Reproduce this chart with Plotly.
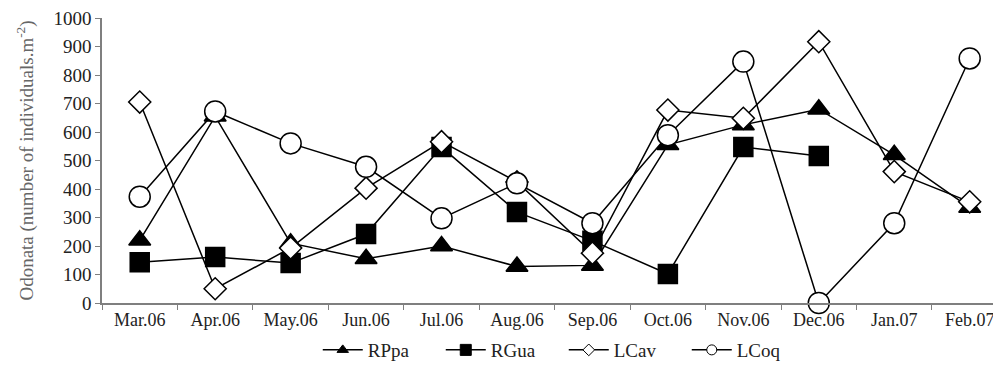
import plotly.graph_objects as go

months = ["Mar.06", "Apr.06", "May.06", "Jun.06", "Jul.06", "Aug.06",
          "Sep.06", "Oct.06", "Nov.06", "Dec.06", "Jan.07", "Feb.07"]
rppa = [220, 655, 210, 155, 200, 128, 132, 555, 625, 680, 520, 335]
rgua = [143, 161, 140, 242, 547, 319, 218, 102, 547, 516, None, None]
lcav = [705, 50, 193, 403, 566, 425, 175, 677, 648, 917, 461, 355]
lcoq = [373, 672, 560, 478, 297, 420, 280, 589, 847, 0, 280, 858]

series = [
    ("RPpa", rppa, "triangle-up", "black", 19, 10),
    ("RGua", rgua, "square", "black", 19, 11),
    ("LCav", lcav, "diamond", "white", 17, 9),
    ("LCoq", lcoq, "circle", "white", 21, 10),
]

fig = go.Figure()
for name, vals, sym, fill, size, lsize in series:
    fig.add_trace(go.Scatter(
        x=months, y=vals, mode="lines+markers", name=name, showlegend=False,
        line=dict(color="black", width=1.5), cliponaxis=False,
        marker=dict(symbol=sym, size=size, color=fill,
                    line=dict(color="black", width=1.5)),
    ))
for name, vals, sym, fill, size, lsize in series:
    fig.add_trace(go.Scatter(
        x=[None], y=[None], mode="lines+markers", name=name,
        line=dict(color="black", width=1.5),
        marker=dict(symbol=sym, size=lsize, color=fill,
                    line=dict(color="black", width=1)),
    ))

axis_font = dict(family="Liberation Serif", size=19, color="#222222")
xtick_font = dict(family="Liberation Serif", size=18, color="#222222")
fig.update_layout(
    width=1001, height=389,
    margin=dict(l=94, r=8, t=10, b=94, autoexpand=False),
    paper_bgcolor="white", plot_bgcolor="white",
    font=axis_font,
    showlegend=True,
    legend=dict(orientation="h", x=0.24, xanchor="left", y=-0.165, yanchor="middle",
                font=dict(family="Liberation Serif", size=19, color="#222222"),
                entrywidth=68, entrywidthmode="pixels",
                itemwidth=40, tracegroupgap=0),
)
fig.update_xaxes(
    type="category", range=[-0.5, 11.415], automargin=False,
    showline=True, linecolor="#7f7f7f", linewidth=1.5,
    ticks="outside", tickson="boundaries", ticklen=5, tickcolor="#7f7f7f",
    showgrid=False, zeroline=False, tickfont=xtick_font,
    ticklabeloverflow="allow",
)
fig.update_yaxes(
    range=[0, 1000], dtick=100, automargin=False,
    showline=True, linecolor="#7f7f7f", linewidth=1.5,
    ticks="outside", ticklen=5, tickcolor="#7f7f7f",
    showgrid=False, zeroline=False, tickfont=axis_font,
    ticklabeloverflow="allow",
    title=dict(text="Odonata (number of individuals.m<sup>-2</sup>)",
               font=dict(family="Liberation Serif", size=19, color="#666666"),
               standoff=15),
)

fig.write_html("out.html")
